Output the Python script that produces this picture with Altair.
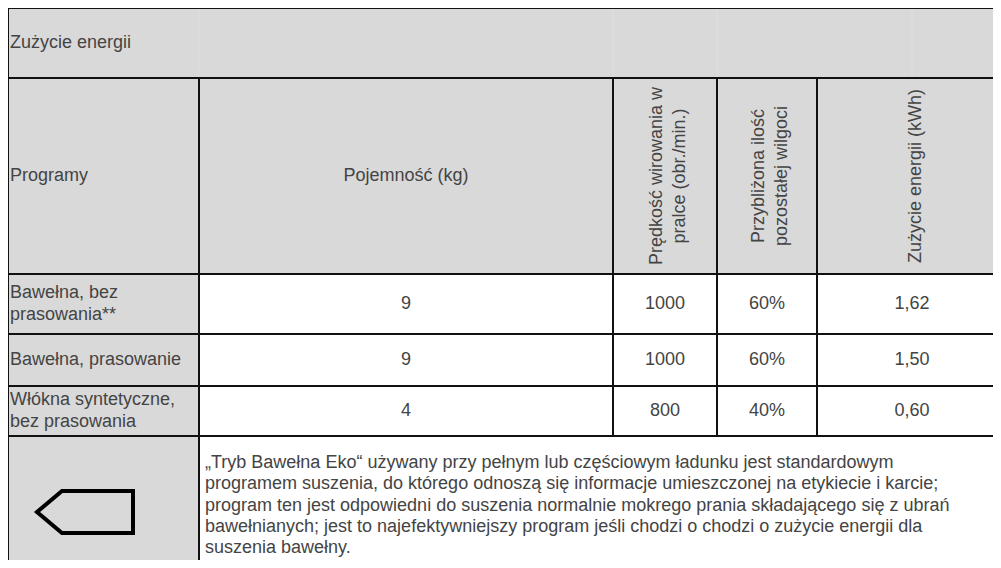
import altair as alt
import pandas as pd

# ---------------- data (text content of the table) ----------------
title_text = "Zużycie energii"
head_programs = "Programy"
head_capacity = "Pojemność (kg)"
head_speed = ["Prędkość wirowania w", "pralce (obr./min.)"]
head_moisture = ["Przybliżona ilość", "pozostałej wilgoci"]
head_energy = ["Zużycie energii (kWh)"]

programs = [["Bawełna, bez", "prasowania**"],
            ["Bawełna, prasowanie"],
            ["Włókna syntetyczne,", "bez prasowania"]]
capacity = ["9", "9", "4"]
spin = ["1000", "1000", "800"]
moisture = ["60%", "60%", "40%"]
energy = ["1,62", "1,50", "0,60"]

note_lines = [
    "„Tryb Bawełna Eko“ używany przy pełnym lub częściowym ładunku jest standardowym",
    "programem suszenia, do którego odnoszą się informacje umieszczonej na etykiecie i karcie;",
    "program ten jest odpowiedni do suszenia normalnie mokrego prania składającego się z ubrań",
    "bawełnianych; jest to najefektywniejszy program jeśli chodzi o chodzi o zużycie energii dla",
    "suszenia bawełny.",
]

# ---------------- layout ----------------
W, H = 985, 552
col_edges = [0, 191, 605, 709, 809, 999]
row_edges = [0, 70, 266, 326, 378, 428, 620]
GRAY = "#d9d9d9"
WHITE = "#ffffff"
TXT = "#444444"
FONT = "Liberation Sans"
FS = 18

def cx(i):
    return (col_edges[i] + col_edges[i + 1]) / 2

def cy(r):
    return (row_edges[r] + row_edges[r + 1]) / 2

# cells
cells = []
cells.append(dict(x=col_edges[0], x2=col_edges[-1], y=row_edges[0], y2=row_edges[1], fill=GRAY))
for c in range(5):
    cells.append(dict(x=col_edges[c], x2=col_edges[c + 1], y=row_edges[1], y2=row_edges[2], fill=GRAY))
for r in range(2, 5):
    for c in range(5):
        cells.append(dict(x=col_edges[c], x2=col_edges[c + 1], y=row_edges[r], y2=row_edges[r + 1],
                          fill=GRAY if c == 0 else WHITE))
cells.append(dict(x=col_edges[0], x2=col_edges[1], y=row_edges[5], y2=row_edges[6], fill=GRAY))
cells.append(dict(x=col_edges[1], x2=col_edges[-1], y=row_edges[5], y2=row_edges[6], fill=WHITE))
cells_df = pd.DataFrame(cells)

# faint artefact lines in the top header row
faint = pd.DataFrame([
    dict(x=col_edges[1], y=row_edges[0] + 1, y2=row_edges[1] - 1),
    dict(x=col_edges[2], y=row_edges[0] + 1, y2=row_edges[1] - 1),
    dict(x=col_edges[3], y=row_edges[0] + 1, y2=row_edges[1] - 1),
    dict(x=cx(4), y=row_edges[0] + 1, y2=row_edges[1] - 1),
])

# left-aligned texts
left_txt = [dict(x=col_edges[0] + 2, y=cy(0), t=title_text),
            dict(x=col_edges[0] + 2, y=cy(1), t=head_programs)]
LH = 22
for r, lines in enumerate(programs):
    n = len(lines)
    for i, ln in enumerate(lines):
        left_txt.append(dict(x=col_edges[0] + 2, y=cy(r + 2) + (i - (n - 1) / 2) * LH, t=ln))
NLH = 21.3
for i, ln in enumerate(note_lines):
    left_txt.append(dict(x=col_edges[1] + 6, y=row_edges[5] + 27 + i * NLH, t=ln))
left_df = pd.DataFrame(left_txt)

# centered texts
center_txt = [dict(x=cx(1), y=cy(1), t=head_capacity)]
for r in range(3):
    for c, vals in zip(range(1, 5), [capacity, spin, moisture, energy]):
        center_txt.append(dict(x=cx(c), y=cy(r + 2), t=vals[r]))
center_df = pd.DataFrame(center_txt)

# rotated header texts
rot = []
RLH = 23
for c, lines in zip([2, 3, 4], [head_speed, head_moisture, head_energy]):
    n = len(lines)
    for i, ln in enumerate(lines):
        rot.append(dict(x=cx(c) + 3.5 + (i - (n - 1) / 2) * RLH, y=cy(1), t=ln))
rot_df = pd.DataFrame(rot)

icon_df = pd.DataFrame([dict(x=77, y=504)])

xs = alt.Scale(domain=[0, W], nice=False, zero=False)
ys = alt.Scale(domain=[0, H], nice=False, zero=False, reverse=True)

def X(f="x"):
    return alt.X(f + ":Q", scale=xs, axis=None)

def Y(f="y"):
    return alt.Y(f + ":Q", scale=ys, axis=None)

rects = alt.Chart(cells_df).mark_rect(stroke="#111111", strokeWidth=2).encode(
    x=X(), x2="x2:Q", y=Y(), y2="y2:Q", fill=alt.Fill("fill:N", scale=None))

faint_rules = alt.Chart(faint).mark_rule(color="#dfdfdf", strokeWidth=1).encode(
    x=X(), y=Y(), y2="y2:Q")

left_text = alt.Chart(left_df).mark_text(align="left", baseline="middle", font=FONT,
                                         fontSize=FS, color=TXT).encode(x=X(), y=Y(), text="t:N")
center_text = alt.Chart(center_df).mark_text(align="center", baseline="middle", font=FONT,
                                             fontSize=FS, color=TXT).encode(x=X(), y=Y(), text="t:N")
rot_text = alt.Chart(rot_df).mark_text(align="center", baseline="middle", angle=270, font=FONT,
                                       fontSize=FS, color=TXT).encode(x=X(), y=Y(), text="t:N")

tag_path = "M -1 0 L -0.48 -0.4375 L 1 -0.4375 L 1 0.4375 L -0.48 0.4375 Z"
icon = alt.Chart(icon_df).mark_point(shape=tag_path, size=9216, filled=False, stroke="black",
                                     strokeWidth=4, opacity=1, strokeJoin="miter").encode(x=X(), y=Y())

chart = alt.layer(rects, faint_rules, left_text, center_text, rot_text, icon).properties(
    width=W, height=H, padding=0, autosize="none", background="white"
).configure_view(stroke=None)

chart.save("out.html", embed_options={"renderer": "svg", "actions": False})
